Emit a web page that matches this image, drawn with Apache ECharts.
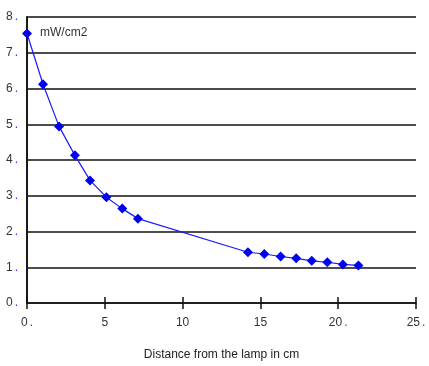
<!DOCTYPE html>
<html>
<head>
<meta charset="utf-8">
<script src="https://cdn.jsdelivr.net/npm/echarts@6/dist/echarts.min.js"></script>
<style>
html,body{margin:0;padding:0;background:#fff;}
#chart{width:429px;height:366px;}
</style>
</head>
<body>
<div id="chart"></div>
<script>
// Data
var distances = [0, 1.03, 2.06, 3.08, 4.05, 5.1, 6.12, 7.13, 14.2, 15.25, 16.3, 17.3, 18.3, 19.3, 20.3, 21.3];
var irradiance = [7.54, 6.12, 4.94, 4.13, 3.43, 2.96, 2.64, 2.36, 1.42, 1.37, 1.3, 1.25, 1.18, 1.14, 1.08, 1.05];
var unitLabel = 'mW/cm2';
var xAxisName = 'Distance from the lamp in cm';

var points = distances.map(function (d, i) { return [d, irradiance[i]]; });
var FONT = '"Liberation Sans", Arial, sans-serif';
var rich = {
  n: { color: '#333', fontSize: 12, fontFamily: FONT },
  d: { color: '#2233ff', fontSize: 12, fontFamily: FONT, padding: [0, 0, 0, 2] }
};

var chart = echarts.init(document.getElementById('chart'), null, { renderer: 'canvas' });
chart.setOption({
  backgroundColor: '#fff',
  animation: false,
  grid: { left: 27, right: 13, top: 17, bottom: 62, containLabel: false },
  xAxis: [{
    type: 'value', min: 0, max: 25, interval: 5,
    name: xAxisName, nameLocation: 'middle', nameGap: 46,
    nameTextStyle: { color: '#222', fontSize: 12, fontFamily: FONT },
    axisLine: { show: true, lineStyle: { color: '#111', width: 1.6 } },
    axisTick: { show: true, length: 6, lineStyle: { color: '#111', width: 1.5 } },
    axisLabel: {
      margin: 14, rich: rich,
      formatter: function (v) {
        return (v === 0 || v >= 20) ? '{n|' + v + '}{d|.}' : '{n|' + v + '}';
      }
    },
    splitLine: { show: false }
  }, {
    type: 'value', min: 0, max: 25, interval: 5, position: 'bottom',
    axisLine: { show: false },
    axisTick: { show: true, inside: true, length: 6, lineStyle: { color: '#111', width: 1.5 } },
    axisLabel: { show: false },
    splitLine: { show: false }
  }],
  yAxis: [{
    type: 'value', min: 0, max: 8, interval: 1,
    axisLine: { show: true, lineStyle: { color: '#111', width: 1.6 } },
    axisTick: { show: false },
    axisLabel: {
      margin: 9, rich: rich,
      formatter: function (v) { return '{n|' + v + '}{d|.}'; }
    },
    splitLine: { show: true, lineStyle: { color: '#111', width: 1.5 } }
  }, {
    type: 'value', min: 0, max: 8, interval: 1, position: 'right',
    axisLine: { show: true, lineStyle: { color: '#111', width: 1.6 } },
    axisTick: { show: false },
    axisLabel: { show: false },
    splitLine: { show: false }
  }],
  series: [{
    type: 'line',
    data: points,
    xAxisIndex: 0, yAxisIndex: 0,
    symbol: 'diamond', symbolSize: 10,
    lineStyle: { color: '#1a1aff', width: 1.2 },
    itemStyle: { color: '#0000ee' },
    z: 5
  }],
  graphic: [{
    type: 'text', left: 40, top: 27,
    style: { text: unitLabel, fill: '#333', fontSize: 12, fontFamily: FONT }
  }]
});
</script>
</body>
</html>
